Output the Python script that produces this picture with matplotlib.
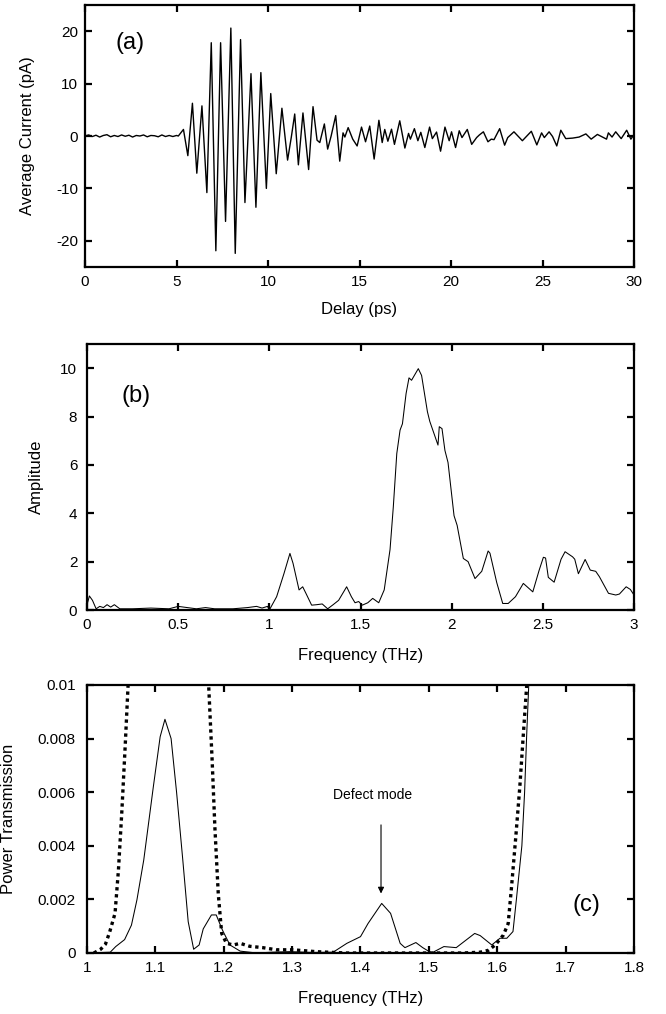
import numpy as np
import matplotlib
matplotlib.use("Agg")
import matplotlib.pyplot as plt
from matplotlib.ticker import FuncFormatter

plt.rcParams['font.family'] = ['Liberation Sans', 'DejaVu Sans']
plt.rcParams['axes.unicode_minus'] = False

# ---------------- Panel (a): time-domain waveform ----------------
delay_ps = [0.0, 0.2, 0.4, 0.6, 0.8, 1.0, 1.2, 1.4, 1.6, 1.8, 2.0, 2.2, 2.4, 2.6, 2.8,
            3.0, 3.2, 3.4, 3.6, 3.8, 4.0, 4.2, 4.4, 4.6, 4.8, 5.0,
            5.1, 5.38, 5.62, 5.87, 6.11, 6.39, 6.66, 6.90, 7.15, 7.41, 7.68, 7.97, 8.21,
            8.50, 8.74, 9.07, 9.34, 9.61, 9.91, 10.15, 10.45, 10.76, 11.07, 11.27, 11.46,
            11.66, 11.91, 12.22, 12.46, 12.68, 12.83, 13.08, 13.26, 13.45, 13.7, 13.92,
            14.1, 14.2, 14.38, 14.63, 14.87, 15.11, 15.33, 15.56, 15.8, 16.06, 16.24,
            16.38, 16.55, 16.75, 16.91, 17.2, 17.48, 17.68, 17.78, 18.0, 18.19, 18.35,
            18.57, 18.83, 18.98, 19.21, 19.43, 19.67, 19.9, 20.03, 20.25, 20.45, 20.6,
            20.89, 21.13, 21.4, 21.55, 21.77, 22.02, 22.2, 22.35, 22.66, 22.93, 23.1,
            23.44, 23.9, 24.39, 24.69, 24.95, 25.1, 25.36, 25.55, 25.78, 26.0, 26.27,
            26.65, 27.0, 27.37, 27.66, 28.0, 28.5, 28.6, 28.8, 29.0, 29.3, 29.6, 29.83, 30.0]
current_pA = [0.0, 0.2, -0.1, 0.15, -0.2, 0.1, 0.25, -0.15, 0.1, -0.1, 0.2, -0.05, 0.15, -0.2,
              0.1, 0.0, 0.2, -0.15, 0.1, 0.05, -0.15, 0.2, -0.1, 0.1, -0.1, 0.1,
              0.0, 1.25, -3.75, 6.25, -7.1, 5.75, -10.8, 17.8, -21.9, 17.8, -16.3, 20.6, -22.4,
              18.4, -12.7, 11.9, -13.6, 12.1, -10.0, 8.1, -7.2, 5.3, -4.6, -0.3, 4.2,
              -5.5, 4.4, -6.4, 5.6, -0.8, -1.25, 2.3, -2.5, 0.0, 3.9, -4.8,
              0.6, -0.2, 1.6, -0.6, -1.9, 1.7, -1.1, 1.9, -4.4, 3.0, -1.25,
              1.25, -1.0, 1.3, -1.6, 2.9, -2.3, 0.5, -0.6, 1.4, -0.9, 0.7,
              -2.2, 1.7, -0.5, 0.75, -2.9, 1.7, -0.9, 0.8, -2.2, 1.0, -0.3,
              1.25, -1.6, -0.3, 0.2, 0.8, -1.1, -0.6, -0.7, 1.4, -1.75, -0.3,
              0.8, -0.9, 0.9, -1.7, 0.6, -0.3, 0.8, -0.1, -1.9, 1.1, -0.5,
              -0.4, -0.2, 0.4, -0.6, 0.3, -0.6, 0.6, -0.2, 0.8, -0.5, 1.1, -0.6, 0.3]

# ---------------- Panel (b): spectrum amplitude ----------------
freq_b = [0.0, 0.013, 0.03, 0.05, 0.07, 0.09, 0.11, 0.13, 0.15, 0.18, 0.25, 0.35, 0.45,
          0.5, 0.55, 0.6, 0.65, 0.7, 0.8, 0.88, 0.93, 0.96, 0.99, 1.0, 1.04, 1.08, 1.113,
          1.13, 1.163, 1.183, 1.2, 1.232, 1.26, 1.29, 1.32, 1.35, 1.38, 1.424, 1.45, 1.47,
          1.49, 1.51, 1.54, 1.567, 1.60, 1.63, 1.662, 1.68, 1.699, 1.717, 1.73, 1.75, 1.766,
          1.78, 1.817, 1.835, 1.867, 1.88, 1.925, 1.932, 1.947, 1.963, 1.98, 2.013, 2.03,
          2.064, 2.09, 2.128, 2.165, 2.2, 2.21, 2.247, 2.28, 2.31, 2.35, 2.393, 2.445, 2.48,
          2.503, 2.515, 2.53, 2.562, 2.6, 2.622, 2.663, 2.675, 2.695, 2.732, 2.76, 2.79,
          2.81, 2.86, 2.9, 2.92, 2.957, 2.98, 3.0]
amplitude = [0.2, 0.58, 0.4, 0.05, 0.15, 0.1, 0.22, 0.12, 0.22, 0.05, 0.05, 0.08, 0.05,
             0.15, 0.1, 0.05, 0.1, 0.05, 0.05, 0.1, 0.15, 0.08, 0.15, 0.0, 0.55, 1.5, 2.34,
             1.93, 0.83, 0.96, 0.7, 0.2, 0.22, 0.25, 0.05, 0.22, 0.4, 0.96, 0.55, 0.3,
             0.35, 0.2, 0.3, 0.48, 0.3, 0.83, 2.5, 4.27, 6.47, 7.44, 7.7, 8.95, 9.6,
             9.5, 9.98, 9.7, 8.2, 7.8, 6.82, 7.58, 7.5, 6.6, 6.1, 3.9, 3.5,
             2.13, 2.0, 1.3, 1.6, 2.44, 2.35, 1.14, 0.27, 0.27, 0.55, 1.1, 0.75, 1.65,
             2.18, 2.15, 1.35, 1.15, 2.1, 2.41, 2.2, 2.1, 1.5, 2.09, 1.65, 1.6,
             1.38, 0.69, 0.62, 0.66, 0.96, 0.85, 0.62]

# ---------------- Panel (c): power transmission ----------------
freq_meas = [1.0, 1.034, 1.042, 1.055, 1.065, 1.073, 1.083, 1.097, 1.107, 1.114, 1.123,
             1.131, 1.14, 1.148, 1.156, 1.164, 1.17, 1.182, 1.189, 1.198, 1.209, 1.224,
             1.248, 1.27, 1.297, 1.33, 1.36, 1.38, 1.40, 1.411, 1.431, 1.444, 1.458,
             1.465, 1.481, 1.491, 1.504, 1.522, 1.54, 1.567, 1.575, 1.592, 1.604, 1.614,
             1.623, 1.628, 1.636, 1.64, 1.643, 1.646, 1.65]
trans_meas = [0.0, 0.00003, 0.00024, 0.0005, 0.00104, 0.00198, 0.00347, 0.0062, 0.00807,
              0.00872, 0.008, 0.006, 0.0035, 0.00117, 0.00014, 0.0003, 0.0009, 0.00142,
              0.00142, 0.00086, 0.0003, 0.00007, 0.0, 0.00003, 0.00005, 0.00002, 0.00003,
              0.00036, 0.00061, 0.0011, 0.00185, 0.00148, 0.00036, 0.0002, 0.00039, 0.0002,
              0.0, 0.00024, 0.0002, 0.00073, 0.00065, 0.0003, 0.00055, 0.00055, 0.0008,
              0.002, 0.004, 0.006, 0.0081, 0.00995, 0.012]

freq_calc = [1.01, 1.02, 1.027, 1.033, 1.041, 1.046, 1.051, 1.056, 1.06, 1.064, np.nan,
             1.175, 1.178, 1.183, 1.187, 1.192, 1.197, 1.204, 1.214, 1.224, 1.238, 1.257,
             1.277, 1.301, 1.335, 1.379, 1.55, 1.575, 1.587, 1.597, 1.609, 1.616, 1.621,
             1.627, 1.633, 1.638, 1.643, 1.646]
trans_calc = [0.0, 0.00014, 0.00033, 0.00077, 0.00148, 0.0031, 0.0053, 0.0078, 0.00995,
              0.012, np.nan, 0.012, 0.00995, 0.0072, 0.0047, 0.0022, 0.00073, 0.00036,
              0.0003, 0.00036, 0.00025, 0.0002, 0.00012, 0.00012, 0.00005, 0.0, 0.0,
              0.00003, 0.0001, 0.0003, 0.00067, 0.0011, 0.0025, 0.0043, 0.0062, 0.0081,
              0.00995, 0.012]

defect_freq = 1.43

# ---------------- Figure ----------------
W, H = 666, 1014
fig = plt.figure(figsize=(W / 100, H / 100), dpi=100)

def ax_px(l, t, r, b):
    return fig.add_axes([l / W, 1 - b / H, (r - l) / W, (b - t) / H])

axa = ax_px(85, 5, 634, 267)
axb = ax_px(87, 344, 634, 610)
axc = ax_px(87, 685, 634, 953)

TICK_FS = 11
LABEL_FS = 12

def style(ax, ypad):
    for s in ax.spines.values():
        s.set_linewidth(1.6)
    ax.tick_params(direction='in', top=True, right=True, length=5, width=1.6,
                   labelsize=TICK_FS)
    ax.tick_params(axis='x', pad=6)
    ax.tick_params(axis='y', pad=ypad)

gfmt = FuncFormatter(lambda v, p: ('%g' % round(v, 6)))

# (a)
axa.plot(delay_ps, current_pA, color='black', lw=1.0)
axa.set_xlim(0, 30)
axa.set_ylim(-25, 25)
axa.set_xticks([0, 5, 10, 15, 20, 25, 30])
axa.set_yticks([-20, -10, 0, 10, 20])
axa.set_xlabel('Delay (ps)', fontsize=LABEL_FS, labelpad=9)
axa.set_ylabel('Average Current (pA)', fontsize=LABEL_FS, labelpad=15)
axa.text(2.45, 17.8, '(a)', fontsize=17, ha='center', va='center')
style(axa, 5)

# (b)
axb.plot(freq_b, amplitude, color='black', lw=0.75)
axb.set_xlim(0, 3)
axb.set_ylim(0, 11)
axb.set_xticks([0, 0.5, 1, 1.5, 2, 2.5, 3])
axb.set_yticks([0, 2, 4, 6, 8, 10])
axb.xaxis.set_major_formatter(gfmt)
axb.set_xlabel('Frequency (THz)', fontsize=LABEL_FS, labelpad=11)
axb.set_ylabel('Amplitude', fontsize=LABEL_FS, labelpad=12)
axb.text(0.27, 8.85, '(b)', fontsize=17, ha='center', va='center')
style(axb, 7)

# (c)
axc.plot(freq_meas, trans_meas, color='black', lw=0.75)
axc.plot(freq_calc, trans_calc, color='black', lw=2.4, linestyle=(0, (1.0, 1.1)),
         dash_capstyle='butt')
axc.set_xlim(1, 1.8)
axc.set_ylim(0, 0.01)
axc.set_xticks([1, 1.1, 1.2, 1.3, 1.4, 1.5, 1.6, 1.7, 1.8])
axc.set_yticks([0, 0.002, 0.004, 0.006, 0.008, 0.01])
axc.xaxis.set_major_formatter(gfmt)
axc.yaxis.set_major_formatter(gfmt)
axc.set_xlabel('Frequency (THz)', fontsize=LABEL_FS, labelpad=11)
axc.set_ylabel('Power Transmission', fontsize=LABEL_FS, labelpad=16)
axc.text(1.731, 0.00179, '(c)', fontsize=17, ha='center', va='center')
axc.annotate('', xy=(defect_freq, 0.00222), xytext=(defect_freq, 0.00478),
             arrowprops=dict(arrowstyle='-|>', lw=0.8, color='black',
                             mutation_scale=9, shrinkA=0, shrinkB=0))
axc.text(1.417, 0.0059, 'Defect mode', fontsize=10, ha='center', va='center')
style(axc, 8)

fig.savefig('out.png', dpi=100)
